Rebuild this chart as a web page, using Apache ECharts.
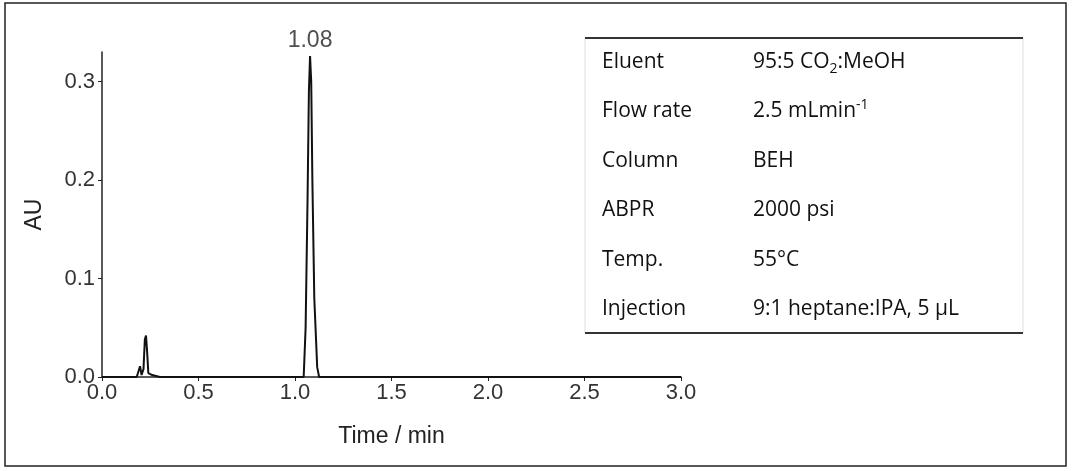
<!DOCTYPE html>
<html><head><meta charset="utf-8">
<script src="https://cdn.jsdelivr.net/npm/echarts@6/dist/echarts.min.js"></script>
<style>html,body{margin:0;background:#fff}#c{width:1072px;height:471px}</style>
</head><body><div id="c"></div>
<script>
// chromatogram trace (time / min, absorbance / AU)
var times = [0.0, 0.18, 0.19, 0.197, 0.205, 0.215, 0.222, 0.228, 0.234, 0.24, 0.25, 0.26, 0.28, 0.30, 0.5, 1.0, 1.045, 1.055, 1.065, 1.072, 1.078, 1.084, 1.09, 1.10, 1.115, 1.125, 1.5, 2.0, 3.0];
var absorb = [0.0, 0.0, 0.001, 0.011, 0.002, 0.008, 0.038, 0.042, 0.025, 0.004, 0.003, 0.002, 0.001, 0.0, 0.0, 0.0, 0.0, 0.05, 0.18, 0.29, 0.326, 0.30, 0.2, 0.08, 0.01, 0.0, 0.0, 0.0, 0.0];
var peakTime = 1.078, peakLabel = '1.08', peakAU = 0.326;
var xTicks = [0, 0.5, 1, 1.5, 2, 2.5, 3];
var yTicks = [0, 0.1, 0.2, 0.3];
var condNames = ['Eluent', 'Flow rate', 'Column', 'ABPR', 'Temp.', 'Injection'];
var condValues = ['95:5 CO{sub|2}:MeOH', '2.5 mLmin{sup|-1}', 'BEH', '2000 psi', '55°C', '9:1 heptane:IPA, 5 µL'];

var chart = echarts.init(document.getElementById('c'));
var font = 'Liberation Sans, Arial, sans-serif';
var tfont = 'Open Sans, Noto Sans, sans-serif';

var graphics = [
  {type: 'rect', shape: {x: 5, y: 3, width: 1061, height: 463}, style: {fill: 'none', stroke: '#222', lineWidth: 1.5}, silent: true},
  {type: 'rect', shape: {x: 585, y: 38, width: 438, height: 295}, style: {fill: 'none', stroke: '#ddd', lineWidth: 1}},
  {type: 'line', shape: {x1: 585, y1: 38, x2: 1023, y2: 38}, style: {stroke: '#333', lineWidth: 2}},
  {type: 'line', shape: {x1: 585, y1: 333, x2: 1023, y2: 333}, style: {stroke: '#333', lineWidth: 2}}
];
condNames.forEach(function (n, i) {
  var y = 62 + i * 49.4;
  graphics.push({type: 'text', x: 602, y: y, style: {text: n, font: '21px ' + tfont, fill: '#111', verticalAlign: 'middle'}});
  graphics.push({type: 'text', x: 753, y: y, style: {text: condValues[i], font: '21px ' + tfont, fill: '#111', verticalAlign: 'middle',
    rich: {sub: {fontSize: 14, fontFamily: tfont, padding: [14, 0, 0, 0], fill: '#111'}, sup: {fontSize: 14, fontFamily: tfont, padding: [0, 0, 12, 0], fill: '#111'}}}});
});

chart.setOption({
  animation: false,
  grid: {left: 102, right: 391, top: 52, bottom: 94},
  xAxis: {
    type: 'value', min: 0, max: 3, interval: 0.5,
    name: 'Time / min', nameLocation: 'middle', nameGap: 48,
    nameTextStyle: {fontSize: 23, color: '#222', fontFamily: font},
    axisLine: {lineStyle: {color: '#222', width: 1.5}},
    axisTick: {length: 4, lineStyle: {color: '#222'}, customValues: xTicks},
    axisLabel: {fontSize: 22, color: '#333', fontFamily: font, margin: 5, customValues: xTicks, formatter: function (v) { return v.toFixed(1); }},
    splitLine: {show: false}
  },
  yAxis: {
    type: 'value', min: 0, max: 0.33,
    name: 'AU', nameLocation: 'middle', nameGap: 56, nameRotate: 90,
    nameTextStyle: {fontSize: 23, color: '#222', fontFamily: font},
    axisLine: {show: true, lineStyle: {color: '#222', width: 1.5}},
    axisTick: {show: true, length: 4, lineStyle: {color: '#222'}, customValues: yTicks},
    axisLabel: {fontSize: 22, color: '#333', fontFamily: font, margin: 7, customValues: yTicks, formatter: function (v) { return v.toFixed(1); }},
    splitLine: {show: false}
  },
  series: [
    {type: 'line', data: times.map(function (t, i) { return [t, absorb[i]]; }), showSymbol: false,
     lineStyle: {color: '#111', width: 2}},
    {type: 'scatter', data: [[peakTime, peakAU]], symbolSize: 0,
     label: {show: true, position: 'top', distance: 4, formatter: peakLabel, fontSize: 23, color: '#222', fontFamily: font}}
  ],
  graphic: graphics
});
</script></body></html>
